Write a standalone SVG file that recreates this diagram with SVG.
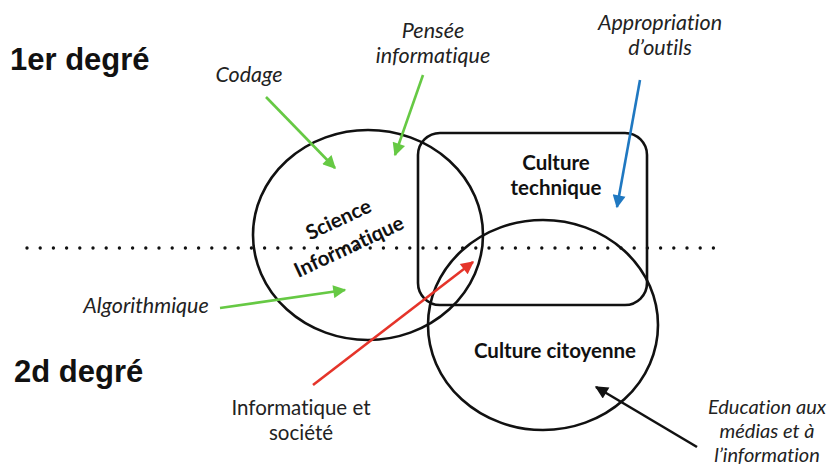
<svg xmlns="http://www.w3.org/2000/svg" width="837" height="467" viewBox="0 0 837 467">
<defs>
<style>
text{font-variant-ligatures:none;font-feature-settings:"liga" 0,"dlig" 0}
.shape{fill:none;stroke:#111;stroke-width:2.6}
.deg{font-family:"Liberation Sans",Arial,sans-serif;font-weight:bold;font-size:31px;fill:#111}
.lab{font-family:Lato,"Open Sans",sans-serif;font-style:italic;font-size:21.5px;fill:#222;text-anchor:middle}
.sm{font-size:20px}
.reg{font-family:Lato,"Open Sans",sans-serif;font-size:20.5px;fill:#222;text-anchor:middle}
.bold{font-family:Lato,"Open Sans",sans-serif;font-weight:bold;font-size:20.5px;fill:#111;text-anchor:middle}
.dots{stroke:#111;stroke-width:3.4;stroke-linecap:round;stroke-dasharray:0 13.2}
.g{stroke:#66c944;stroke-width:2.6;fill:none}
.b{stroke:#1f78c1;stroke-width:2.6;fill:none}
.r{stroke:#e5342a;stroke-width:2.6;fill:none}
.k{stroke:#111;stroke-width:2.6;fill:none}
</style>
<marker id="ag" viewBox="0 0 10 10" refX="9" refY="5" markerWidth="15" markerHeight="13" orient="auto" markerUnits="userSpaceOnUse"><path d="M0,0 L10,5 L0,10 z" fill="#66c944"/></marker>
<marker id="ab" viewBox="0 0 10 10" refX="9" refY="5" markerWidth="15" markerHeight="13" orient="auto" markerUnits="userSpaceOnUse"><path d="M0,0 L10,5 L0,10 z" fill="#1f78c1"/></marker>
<marker id="ar" viewBox="0 0 10 10" refX="9" refY="5" markerWidth="15" markerHeight="13" orient="auto" markerUnits="userSpaceOnUse"><path d="M0,0 L10,5 L0,10 z" fill="#e5342a"/></marker>
<marker id="ak" viewBox="0 0 10 10" refX="9" refY="5" markerWidth="15" markerHeight="13" orient="auto" markerUnits="userSpaceOnUse"><path d="M0,0 L10,5 L0,10 z" fill="#111"/></marker>
</defs>
<rect width="837" height="467" fill="#fff"/>
<text class="deg" x="10" y="70">1er degré</text>
<text class="deg" x="14" y="382">2d degré</text>
<line class="dots" x1="27" y1="248" x2="716" y2="248"/>
<g id="science">
<ellipse class="shape" cx="368" cy="235" rx="115" ry="105"/>
<g transform="translate(346,238) rotate(-25)">
<text class="bold" x="1" y="-13">Science</text>
<text class="bold" x="-1" y="16">Informatique</text>
</g>
</g>
<g id="technique">
<rect class="shape" x="418" y="133" width="229" height="172" rx="22"/>
<text class="bold" x="556" y="170">Culture</text>
<text class="bold" x="556" y="195">technique</text>
</g>
<g id="citoyenne">
<ellipse class="shape" cx="543" cy="325" rx="115" ry="105"/>
<text class="bold" x="555" y="358">Culture citoyenne</text>
</g>
<g id="labels">
<text class="lab" x="249" y="82">Codage</text>
<text class="lab" x="433" y="38">Pensée</text>
<text class="lab" x="433" y="63">informatique</text>
<text class="lab" x="660" y="30">Appropriation</text>
<text class="lab" x="660" y="55">d’outils</text>
<text class="lab" x="146" y="313">Algorithmique</text>
<text class="reg" x="301" y="415">Informatique et</text>
<text class="reg" x="301" y="440">société</text>
<text class="lab sm" x="767" y="414">Education aux</text>
<text class="lab sm" x="767" y="438">médias et à</text>
<text class="lab sm" x="767" y="462">l’information</text>
</g>
<g id="connectors">
<line class="g" x1="266" y1="97" x2="335" y2="168" marker-end="url(#ag)"/>
<line class="g" x1="423" y1="75" x2="395" y2="155" marker-end="url(#ag)"/>
<line class="g" x1="220" y1="308" x2="345" y2="290" marker-end="url(#ag)"/>
<line class="b" x1="640" y1="80" x2="617" y2="207" marker-end="url(#ab)"/>
<line class="r" x1="313" y1="385" x2="473" y2="262" marker-end="url(#ar)"/>
<line class="k" x1="697" y1="447" x2="596" y2="387" marker-end="url(#ak)"/>
</g>
</svg>
